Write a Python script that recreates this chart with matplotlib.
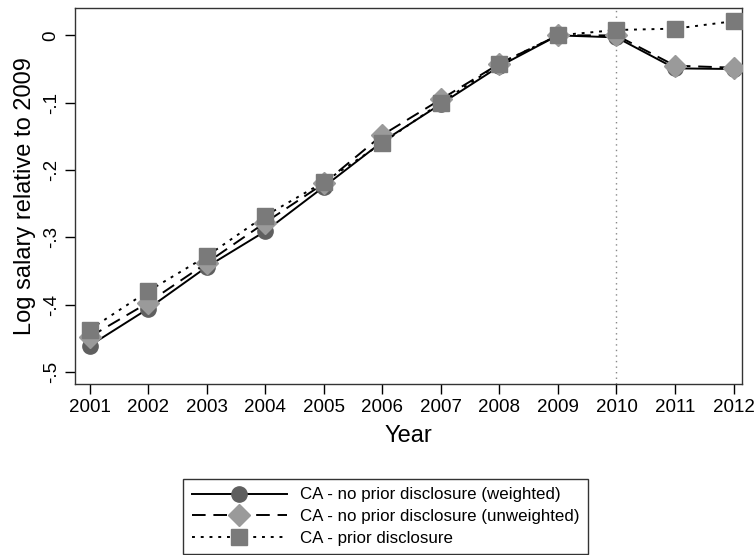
import matplotlib
matplotlib.use("Agg")
import matplotlib.pyplot as plt

plt.rcParams['font.family'] = ['Liberation Sans', 'DejaVu Sans']

years = [2001, 2002, 2003, 2004, 2005, 2006, 2007, 2008, 2009, 2010, 2011, 2012]
weighted = [-0.461, -0.406, -0.344, -0.291, -0.225, -0.158, -0.102, -0.046, 0.0, -0.003, -0.049, -0.050]
unweighted = [-0.448, -0.397, -0.338, -0.278, -0.220, -0.148, -0.095, -0.042, 0.0, 0.0, -0.045, -0.048]
prior = [-0.437, -0.380, -0.328, -0.268, -0.218, -0.160, -0.100, -0.042, 0.0, 0.008, 0.010, 0.021]
labels = ["CA - no prior disclosure (weighted)",
          "CA - no prior disclosure (unweighted)",
          "CA - prior disclosure"]
yticks = [0, -0.1, -0.2, -0.3, -0.4, -0.5]
yticklabels = ["0", "-.1", "-.2", "-.3", "-.4", "-.5"]

fig = plt.figure(figsize=(7.54, 5.55), dpi=100)
ax = fig.add_axes([0.0995, 0.308, 0.885, 0.678])

ax.axvline(2010, color='#888888', lw=1.0, ls=(0, (1, 3)), zorder=1)

ax.plot(years, weighted, color='black', lw=1.4, ls='-', marker='o', ms=11,
        mfc='#5f5f5f', mec='#5f5f5f', zorder=3, label=labels[0])
ax.plot(years, unweighted, color='black', lw=1.4, ls=(0, (7, 4)), marker='D', ms=11,
        mfc='#9a9a9a', mec='#9a9a9a', zorder=4, label=labels[1])
ax.plot(years, prior, color='black', lw=1.4, ls=(0, (1.5, 3)), marker='s', ms=11,
        mfc='#7a7a7a', mec='#7a7a7a', zorder=5, label=labels[2])

ax.set_xlim(2000.75, 2012.15)
ax.set_ylim(-0.518, 0.041)
ax.set_xticks(years)
ax.set_xticklabels([str(y) for y in years], fontsize=13.5)
ax.set_yticks(yticks)
ax.set_yticklabels(yticklabels, fontsize=13.5, rotation=90, va='center')
ax.tick_params(direction='out', length=7, width=1, color='black', pad=4)
ax.set_xlabel("Year", fontsize=17, labelpad=6)
ax.set_ylabel("Log salary relative to 2009", fontsize=17, labelpad=5)
for s in ax.spines.values():
    s.set_linewidth(1.0)
    s.set_color('#333333')

handles, lbls = ax.get_legend_handles_labels()
leg = fig.legend(handles, lbls, loc='upper left', bbox_to_anchor=(0.243, 0.137),
                 borderaxespad=0, fontsize=12.2, handlelength=5.6, handletextpad=0.8,
                 frameon=True, fancybox=False,
                 edgecolor='black', borderpad=0.5, labelspacing=0.4, ncol=1)
leg.get_frame().set_linewidth(1.0)

fig.savefig("out.png", dpi=100)
